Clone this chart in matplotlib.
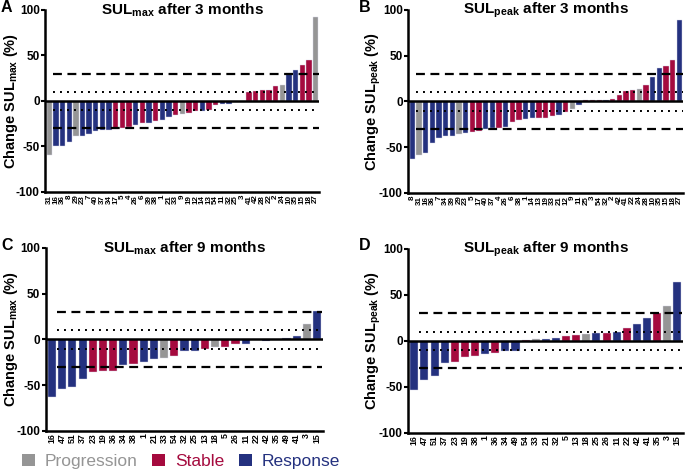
import matplotlib
matplotlib.use("Agg")
import matplotlib.pyplot as plt
from matplotlib.patches import Patch

plt.rcParams['font.family'] = ['Liberation Sans', 'DejaVu Sans']
plt.rcParams['mathtext.fontset'] = 'custom'
plt.rcParams['mathtext.rm'] = 'Liberation Sans:bold'
plt.rcParams['mathtext.bf'] = 'Liberation Sans:bold'
plt.rcParams['axes.unicode_minus'] = False

# P = progression, S = stable, R = response
labels_a = ['31', '16', '36', '8', '29', '23', '7', '40', '37', '34', '17', '5', '4', '26', '6',
            '39', '38', '1', '21', '33', '9', '19', '12', '14', '13', '54', '11', '32', '25', '3',
            '41', '42', '28', '22', '2', '24', '10', '35', '15', '18', '27']
values_a = [-59, -49, -49, -45, -39, -38, -36, -33, -32, -32, -31, -30, -29, -27, -24,
            -24, -22, -21, -18, -15, -14, -13, -11, -11, -10, -4, -3, -3, -0.7, -1,
            10, 11, 12, 12.5, 16, 17, 31, 34, 40, 45, 92]
groups_a = ['P', 'R', 'R', 'R', 'P', 'R', 'R', 'R', 'R', 'R', 'S', 'S', 'S', 'R', 'S',
            'R', 'S', 'R', 'R', 'S', 'P', 'S', 'S', 'R', 'S', 'S', 'R', 'R', 'R', 'S',
            'S', 'S', 'S', 'S', 'S', 'P', 'R', 'R', 'S', 'S', 'P']

labels_b = ['8', '31', '16', '36', '7', '34', '39', '29', '23', '5', '17', '40', '37', '4', '26',
            '6', '38', '1', '14', '13', '19', '33', '21', '12', '9', '11', '25', '3', '54', '32',
            '2', '42', '41', '22', '24', '28', '10', '35', '15', '18', '27']
values_b = [-63, -59, -56, -45, -40, -38, -38, -36, -35, -33, -32, -30, -29, -29, -28,
            -22, -20, -19.5, -18, -18, -18, -16, -15, -12, -8, -3.5, 1, 1, 1, 1,
            3, 7, 11, 12, 14, 18, 27, 36, 39, 45, 89]
groups_b = ['R', 'P', 'R', 'R', 'R', 'R', 'R', 'P', 'R', 'S', 'S', 'R', 'R', 'S', 'R',
            'S', 'S', 'R', 'R', 'S', 'S', 'S', 'R', 'S', 'P', 'R', 'S', 'S', 'S', 'R',
            'S', 'S', 'S', 'S', 'P', 'S', 'R', 'R', 'S', 'S', 'R']

labels_c = ['16', '47', '51', '37', '23', '19', '36', '34', '38', '1', '21', '33', '54', '32',
            '25', '13', '18', '5', '26', '11', '22', '42', '35', '49', '41', '3', '15']
values_c = [-63, -54, -52, -43, -36, -35, -35, -28, -27, -25, -21, -20, -18, -13,
            -13, -10, -8, -8, -5, -5, 0.7, -2, -1, 2, 4, 17, 31]
groups_c = ['R', 'R', 'R', 'R', 'S', 'S', 'S', 'R', 'S', 'R', 'R', 'P', 'S', 'R',
            'R', 'S', 'P', 'S', 'S', 'R', 'S', 'R', 'S', 'R', 'R', 'P', 'R']

labels_d = ['16', '47', '51', '37', '23', '19', '38', '1', '36', '34', '49', '54', '33', '21',
            '32', '5', '13', '18', '25', '26', '11', '22', '42', '41', '35', '3', '15']
values_d = [-54, -43, -38, -24, -23, -18, -16, -14, -13, -11, -11, 1, 1.5, 2,
            3, 5, 6, 7, 8, 9, 10, 14, 18, 25, 30, 38, 64]
groups_d = ['R', 'R', 'R', 'R', 'S', 'S', 'S', 'R', 'S', 'R', 'R', 'S', 'P', 'R',
            'R', 'S', 'S', 'P', 'R', 'S', 'R', 'S', 'R', 'R', 'S', 'P', 'R']

colors = {'P': '#959595', 'S': '#a50a3e', 'R': '#24317f'}

panels = [
    ('A', r'$\mathbf{SUL_{max}}$ after 3 months', r'Change $\mathbf{SUL_{max}}$ (%)',
     labels_a, values_a, groups_a, [0.066, 0.596, 0.400, 0.383], -0.164, 5.8),
    ('B', r'$\mathbf{SUL_{peak}}$ after 3 months', r'Change $\mathbf{SUL_{peak}}$ (%)',
     labels_b, values_b, groups_b, [0.596, 0.594, 0.401, 0.385], -0.18, 5.8),
    ('C', r'$\mathbf{SUL_{max}}$ after 9 months', r'Change $\mathbf{SUL_{max}}$ (%)',
     labels_c, values_c, groups_c, [0.067, 0.093, 0.404, 0.385], -0.16, 6.3),
    ('D', r'$\mathbf{SUL_{peak}}$ after 9 months', r'Change $\mathbf{SUL_{peak}}$ (%)',
     labels_d, values_d, groups_d, [0.596, 0.089, 0.401, 0.387], -0.18, 6.3),
]

fig = plt.figure(figsize=(6.85, 4.75), dpi=100)

for letter, title, ylabel, labels, values, groups, pos, letter_x, xfs in panels:
    ax = fig.add_axes(pos)
    n = len(values)
    x = list(range(n))
    ax.bar(x, values, width=0.8, color=[colors[g] for g in groups],
           edgecolor='#d8d8e8', linewidth=0.3, zorder=2)
    ax.axhline(0, color='black', linewidth=1.8, zorder=3)
    # thresholds
    ax.hlines([30, -30], 0.5, n - 0.5, colors='black', linestyles=(0, (4, 2.5)),
              linewidth=1.6, zorder=4)
    ax.hlines([10, -10], 0.5, n - 0.5, colors='black', linestyles=(0, (1, 2.6)),
              linewidth=1.4, zorder=4)

    ax.set_xlim(-0.6, n - 0.45)
    ax.set_ylim(-100, 100)
    ax.set_yticks([-100, -50, 0, 50, 100])
    ax.set_xticks(x)
    ax.set_xticklabels(labels, rotation=90, fontsize=xfs, fontweight='bold')
    ax.tick_params(axis='x', length=0, pad=2)
    ax.tick_params(axis='y', length=3, width=1.5, labelsize=8.5, pad=1)
    for t in ax.get_yticklabels():
        t.set_fontweight('bold')
    for s in ['top', 'right']:
        ax.spines[s].set_visible(False)
    for s in ['left', 'bottom']:
        ax.spines[s].set_linewidth(1.8)

    ax.text(0.5, 1.0, title, transform=ax.transAxes, fontsize=11,
            fontweight='bold', ha='center', va='center')
    ax.set_ylabel(ylabel, fontsize=10.5, fontweight='bold')
    ax.yaxis.set_label_coords(-0.092, 0.5)
    ax.text(letter_x, 1.016, letter, transform=ax.transAxes, fontsize=11.5,
            fontweight='bold', ha='left', va='center')

handles = [Patch(facecolor=colors['P']), Patch(facecolor=colors['S']),
           Patch(facecolor=colors['R'])]
leg = fig.legend(handles, ['Progression', 'Stable', 'Response'], loc='center left',
                 bbox_to_anchor=(0.032, 0.029), ncol=3, frameon=False, fontsize=12.5,
                 handlelength=0.75, handleheight=0.75, handletextpad=0.55,
                 columnspacing=0.85, borderpad=0, borderaxespad=0)
for txt, c in zip(leg.get_texts(), ['#959595', '#a50a3e', '#24317f']):
    txt.set_color(c)

fig.savefig('out.png', dpi=100)
